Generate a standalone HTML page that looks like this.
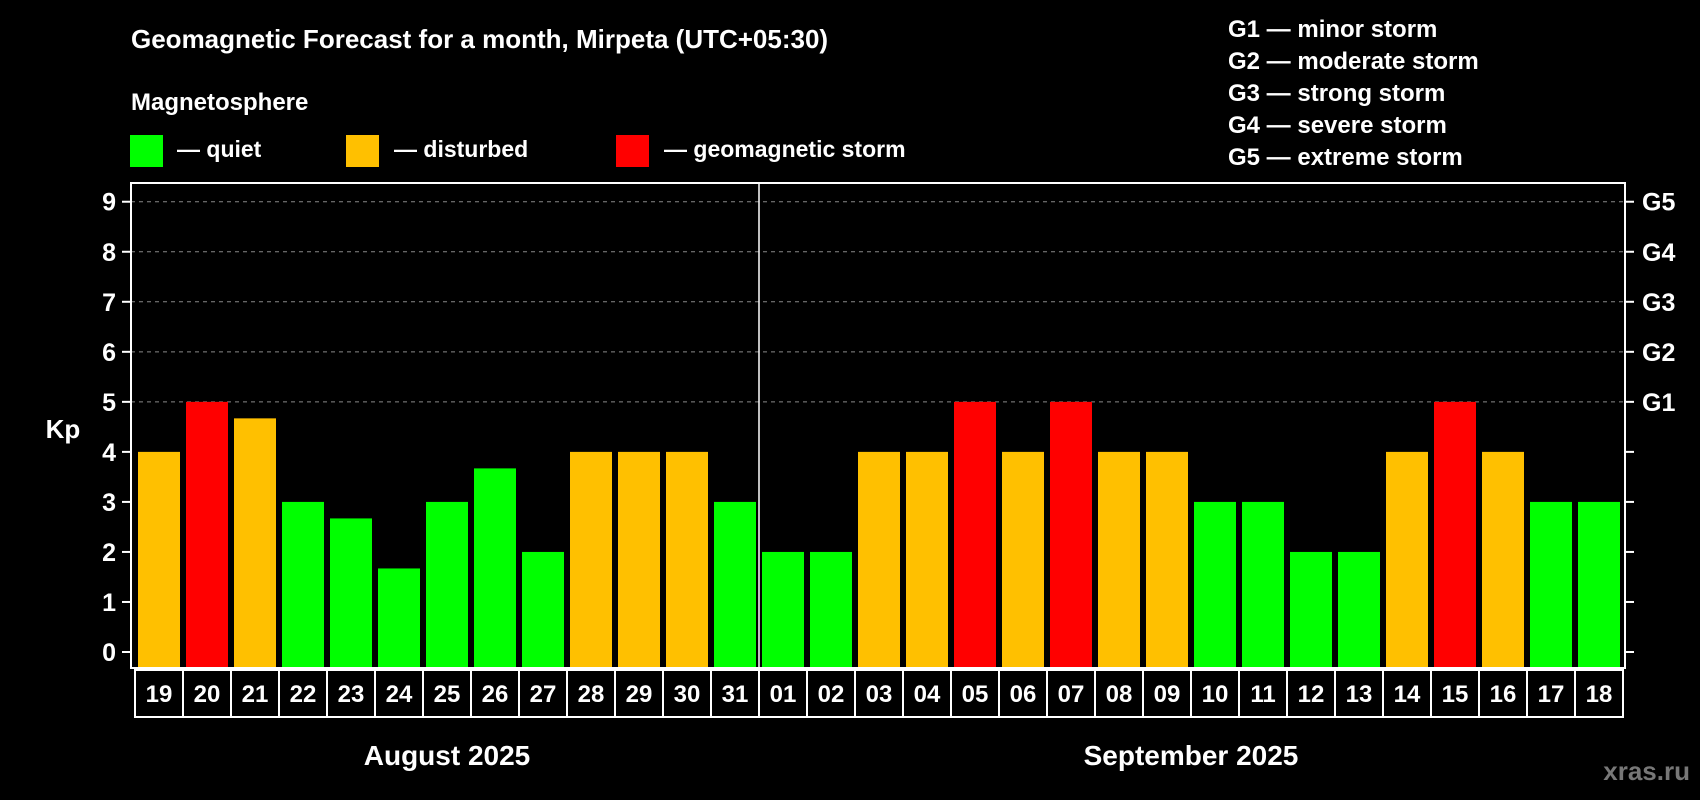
<!DOCTYPE html>
<html><head><meta charset="utf-8"><style>
html,body{margin:0;padding:0;background:#000;}
svg{display:block;font-family:"Liberation Sans",Arial,sans-serif;font-weight:bold;}
</style></head><body>
<svg id="chart" width="1700" height="800" viewBox="0 0 1700 800" xmlns="http://www.w3.org/2000/svg">
<rect x="0" y="0" width="1700" height="800" fill="#000"/>
<text x="131" y="48" fill="#fff" font-size="26">Geomagnetic Forecast for a month, Mirpeta (UTC+05:30)</text>
<text x="131" y="110" fill="#fff" font-size="24">Magnetosphere</text>
<g>
<rect x="130" y="135" width="33" height="32" fill="#00ff00"/>
<text x="177" y="157" fill="#fff" font-size="23">— quiet</text>
<rect x="346" y="135" width="33" height="32" fill="#ffc000"/>
<text x="394" y="157" fill="#fff" font-size="23">— disturbed</text>
<rect x="616" y="135" width="33" height="32" fill="#ff0000"/>
<text x="664" y="157" fill="#fff" font-size="23">— geomagnetic storm</text>
</g>
<g fill="#fff" font-size="24">
<text x="1228" y="37">G1 — minor storm</text>
<text x="1228" y="69">G2 — moderate storm</text>
<text x="1228" y="101">G3 — strong storm</text>
<text x="1228" y="133">G4 — severe storm</text>
<text x="1228" y="165">G5 — extreme storm</text>
</g>
<text x="63" y="438" fill="#fff" font-size="26" text-anchor="middle">Kp</text>
<g id="grid"></g>
<g id="bars"></g>
<g id="axes"></g>
<text x="447" y="765" fill="#fff" font-size="28" text-anchor="middle">August 2025</text>
<text x="1191" y="765" fill="#fff" font-size="28" text-anchor="middle">September 2025</text>
<text x="1690" y="780" fill="#777" font-size="26" text-anchor="end">xras.ru</text>
</svg>
<script>
const days = ["19","20","21","22","23","24","25","26","27","28","29","30","31","01","02","03","04","05","06","07","08","09","10","11","12","13","14","15","16","17","18"];
const kpValues = [4,5,4.67,3,2.67,1.67,3,3.67,2,4,4,4,3,2,2,4,4,5,4,5,4,4,3,3,2,2,4,5,4,3,3];
const yTicks = [0,1,2,3,4,5,6,7,8,9];
const gLabels = ["G1","G2","G3","G4","G5"];
const gLevels = [5,6,7,8,9];
const monthSplitIndex = 13;

const NS="http://www.w3.org/2000/svg";
const L=131, R=1625, TOP=183, BOT=668, Y0=652, UNIT=50.03;
const SLOT0=135, PITCH=48;
function y(v){return Y0 - v*UNIT;}
function x(i){return SLOT0 + i*PITCH;}
function mk(tag,attrs,parent){const e=document.createElementNS(NS,tag);for(const k in attrs)e.setAttribute(k,attrs[k]);parent.appendChild(e);return e;}
function color(v){return v>=5?"#ff0000":(v>=4?"#ffc000":"#00ff00");}

const grid=document.getElementById("grid"), bars=document.getElementById("bars"), axes=document.getElementById("axes");
gLevels.forEach(function(v){
  const l=mk("line",{x1:L,x2:R,y1:y(v),y2:y(v),stroke:"#888","stroke-width":1,"stroke-dasharray":"4,4"},grid);
  
  
});
kpValues.forEach(function(v,i){
  const r=mk("rect",{x:x(i)+3,y:y(v),width:42,height:BOT-y(v),fill:color(v)},bars);
  
  
});
// frame
const fr=mk("rect",{x:L,y:TOP,width:R-L,height:BOT-TOP,fill:"none",stroke:"#fff","stroke-width":2},axes);


const dv=mk("line",{x1:x(monthSplitIndex),x2:x(monthSplitIndex),y1:TOP,y2:BOT,stroke:"#fff","stroke-width":1.5},axes);


yTicks.forEach(function(v){
  const t1=mk("line",{x1:L-9,x2:L,y1:y(v),y2:y(v),stroke:"#fff","stroke-width":2},axes);
  
  
  const t2=mk("line",{x1:R,x2:R+9,y1:y(v),y2:y(v),stroke:"#fff","stroke-width":2},axes);
  
  
  const tx=mk("text",{x:116,y:y(v)+9,fill:"#fff","font-size":25,"text-anchor":"end"},axes);
  tx.textContent=v;
  
  
});
gLevels.forEach(function(v,i){
  const tx=mk("text",{x:1642,y:y(v)+9,fill:"#fff","font-size":25},axes);
  tx.textContent=gLabels[i];
  
  
});
days.forEach(function(d,i){
  const c=mk("rect",{x:x(i),y:670,width:PITCH,height:47,fill:"#000",stroke:"#fff","stroke-width":2},axes);
  
  
  const tx=mk("text",{x:x(i)+PITCH/2,y:702,fill:"#fff","font-size":24,"text-anchor":"middle"},axes);
  tx.textContent=d;
  
  
});
</script>
</body></html>
